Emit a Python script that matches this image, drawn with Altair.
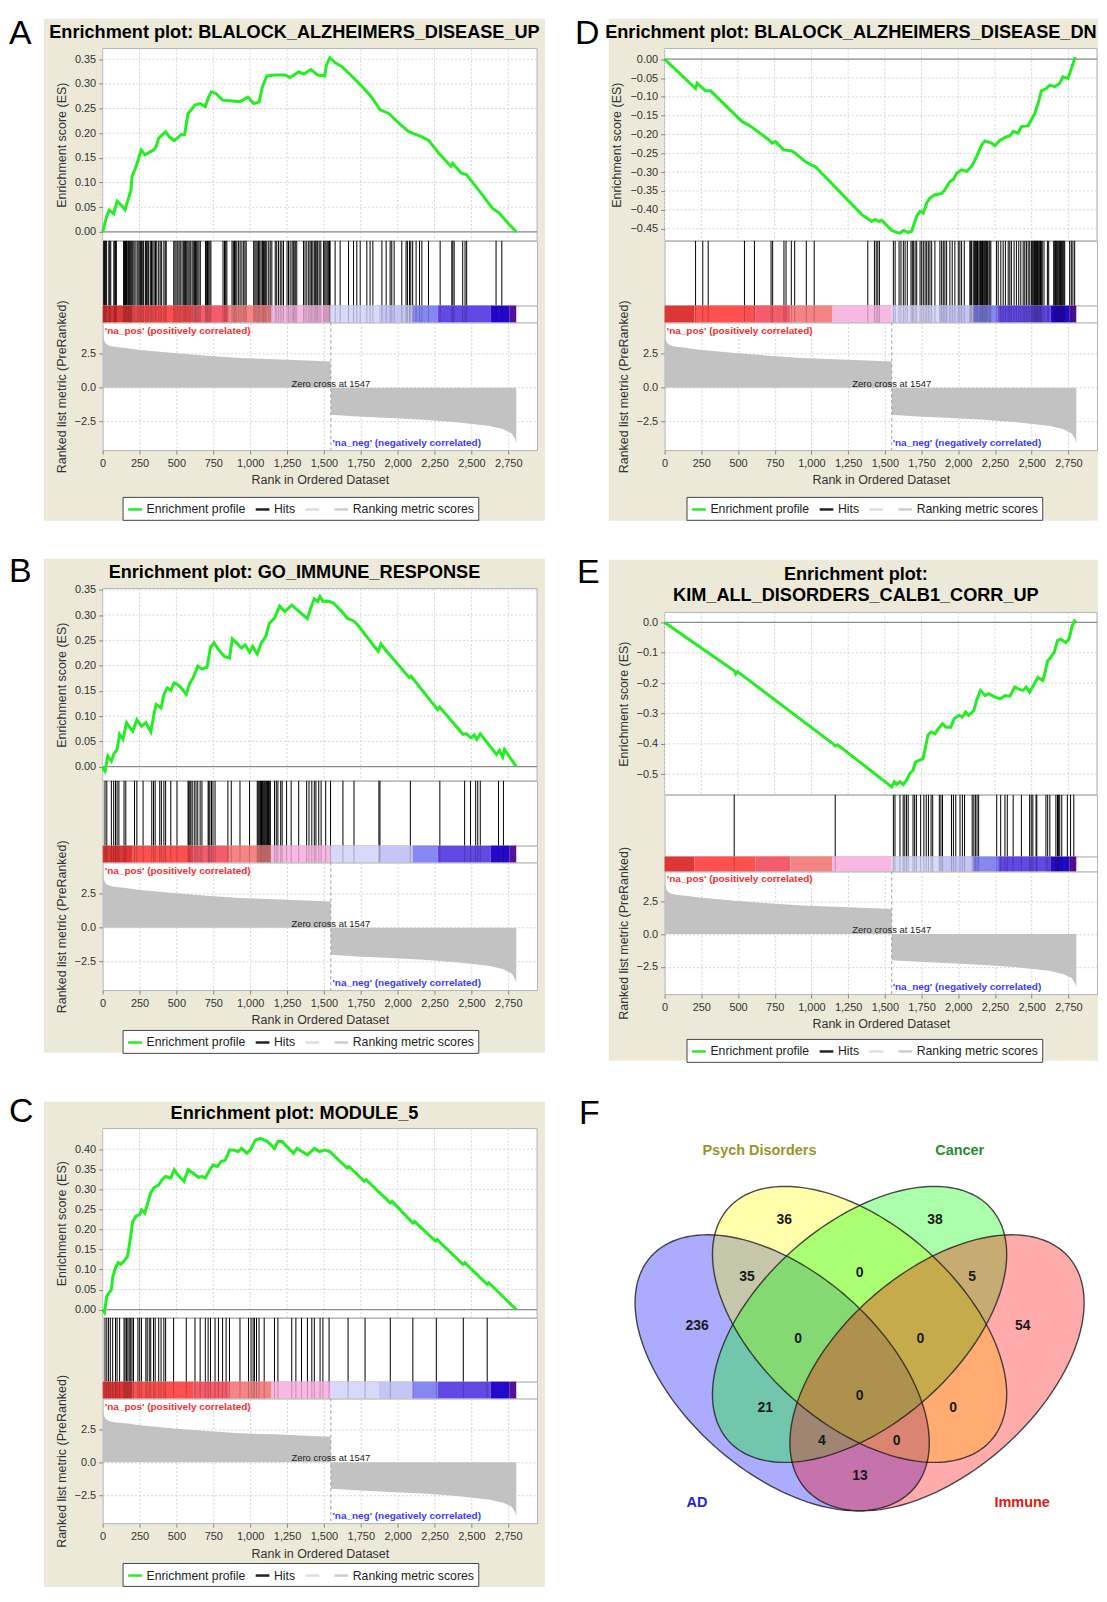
import math
import altair as alt
import pandas as pd

FONT = "Liberation Sans"
LETTER_FONT = "Liberation Sans"
BEIGE = "#ece9d8"
RANK_MAX = 2945

rank_ticks = [0, 250, 500, 750, 1000, 1250, 1500, 1750, 2000, 2250, 2500, 2750]
metric_ticks = [-2.5, 0.0, 2.5]
metric_points = [(0, 3.75), (8, 3.55), (18, 3.3), (35, 3.15), (52, 3.07), (90, 3.0), (142, 2.95),
                 (255, 2.78), (481, 2.55), (707, 2.36), (933, 2.19), (1159, 2.1), (1384, 2.0),
                 (1546, 1.93), (1547, -2.0), (1723, -2.12), (1949, -2.24), (2175, -2.36),
                 (2401, -2.55), (2627, -2.83), (2717, -3.07), (2773, -3.37), (2796, -3.77), (2804, -4.1)]
zero_cross = [1547]
note_text = ["'na_pos' (positively correlated)", "'na_neg' (negatively correlated)", "Zero cross at 1547"]
note_rank = [15, 2565, 1547]
note_metric = [4.2, -4.05, 0.3]

colorbar_start = [0, 204, 618, 856, 1144, 1547, 1870, 2102, 2272, 2630, 2759]
colorbar_end = [204, 618, 856, 1144, 1547, 1870, 2102, 2272, 2630, 2759, 2804]
colorbar_color = ["#de3636", "#ff5050", "#f45c6c", "#f68484", "#f7b8e2", "#d8d8fb", "#c6c6f6",
                  "#8787f4", "#6248e4", "#2408cc", "#53109a"]

legend_names = ["Enrichment profile", "Hits", " ", "Ranking metric scores"]
legend_colors = ["#22ee22", "#222222", "#dddddd", "#cccccc"]

a_title = ["Enrichment plot: BLALOCK_ALZHEIMERS_DISEASE_UP"]
a_es_ticks = [0.0, 0.05, 0.10, 0.15, 0.20, 0.25, 0.30, 0.35]
a_es = [(0, 0.0), (28, 0.032), (45, 0.044), (75, 0.037), (98, 0.062), (134, 0.052), (152, 0.045),
        (169, 0.062), (192, 0.085), (199, 0.112), (227, 0.133), (251, 0.156), (262, 0.166),
        (286, 0.156), (345, 0.166), (363, 0.173), (380, 0.19), (427, 0.203), (450, 0.193),
        (485, 0.185), (532, 0.197), (555, 0.197), (579, 0.24), (602, 0.248), (626, 0.257),
        (661, 0.26), (696, 0.254), (720, 0.274), (736, 0.284), (766, 0.281), (813, 0.267),
        (860, 0.266), (931, 0.264), (985, 0.273), (1024, 0.26), (1060, 0.263), (1083, 0.294),
        (1113, 0.316), (1165, 0.318), (1235, 0.318), (1271, 0.313), (1329, 0.324), (1364, 0.32),
        (1411, 0.329), (1458, 0.318), (1505, 0.316), (1517, 0.338), (1540, 0.353), (1575, 0.343),
        (1622, 0.335), (1681, 0.318), (1751, 0.297), (1821, 0.274), (1880, 0.248), (1939, 0.24),
        (2021, 0.217), (2075, 0.203), (2161, 0.193), (2208, 0.186), (2278, 0.16), (2361, 0.133),
        (2373, 0.139), (2431, 0.119), (2466, 0.116), (2548, 0.085), (2642, 0.048), (2689, 0.038),
        (2747, 0.018), (2804, 0.0)]
a_hits = [7, 13, 20, 27, 42, 48, 55, 76, 82, 88, 93, 142, 148, 155, 162, 170, 176, 183, 190, 197,
          204, 212, 220, 233, 240, 248, 256, 264, 272, 278, 290, 298, 306, 312, 323, 331, 340, 349,
          358, 367, 380, 390, 400, 415, 424, 431, 482, 490, 498, 509, 518, 526, 538, 547, 556, 561,
          570, 578, 586, 594, 606, 614, 622, 630, 635, 645, 653, 662, 697, 705, 711, 719, 727, 734,
          816, 826, 834, 842, 877, 886, 894, 902, 910, 922, 932, 944, 956, 965, 973, 1024, 1032,
          1040, 1048, 1057, 1065, 1074, 1083, 1091, 1096, 1105, 1113, 1126, 1136, 1147, 1170, 1180,
          1192, 1204, 1215, 1226, 1250, 1260, 1271, 1284, 1292, 1298, 1306, 1316, 1362, 1372, 1384,
          1397, 1406, 1415, 1425, 1435, 1444, 1452, 1458, 1468, 1479, 1498, 1506, 1514, 1522, 1530,
          1538, 1542, 1576, 1610, 1667, 1701, 1723, 1746, 1791, 1813, 1832, 1893, 1922, 1949, 1960,
          1976, 2028, 2057, 2066, 2080, 2089, 2102, 2125, 2148, 2164, 2209, 2288, 2367, 2374, 2383,
          2441, 2457, 2468, 2667, 2706]

b_title = ["Enrichment plot: GO_IMMUNE_RESPONSE"]
b_es_ticks = [0.0, 0.05, 0.10, 0.15, 0.20, 0.25, 0.30, 0.35]
b_es = [(0, -0.002), (16, -0.009), (35, 0.021), (59, 0.011), (75, 0.024), (98, 0.034), (115, 0.064),
        (138, 0.054), (162, 0.087), (185, 0.077), (204, 0.07), (232, 0.093), (263, 0.08), (293, 0.087),
        (326, 0.069), (349, 0.105), (363, 0.123), (396, 0.116), (415, 0.143), (438, 0.156),
        (462, 0.151), (485, 0.166), (509, 0.162), (532, 0.156), (567, 0.143), (591, 0.166),
        (614, 0.176), (645, 0.199), (673, 0.193), (708, 0.197), (731, 0.236), (755, 0.245),
        (785, 0.232), (825, 0.218), (860, 0.215), (879, 0.253), (907, 0.245), (942, 0.235),
        (966, 0.241), (996, 0.227), (1017, 0.238), (1048, 0.223), (1076, 0.245), (1106, 0.258),
        (1130, 0.284), (1165, 0.294), (1200, 0.318), (1235, 0.307), (1282, 0.32), (1317, 0.311),
        (1388, 0.293), (1411, 0.314), (1435, 0.332), (1458, 0.327), (1474, 0.337), (1493, 0.327),
        (1528, 0.328), (1564, 0.324), (1622, 0.307), (1657, 0.294), (1704, 0.288), (1728, 0.281),
        (1868, 0.228), (1887, 0.243), (1915, 0.232), (2079, 0.176), (2091, 0.179), (2271, 0.113),
        (2285, 0.118), (2443, 0.064), (2466, 0.065), (2497, 0.057), (2520, 0.063), (2537, 0.054),
        (2560, 0.065), (2670, 0.024), (2689, 0.032), (2712, 0.019), (2724, 0.034), (2804, 0.0)]
b_hits = [16, 28, 59, 75, 87, 98, 110, 145, 157, 216, 232, 274, 333, 345, 356, 387, 398, 415, 427,
          462, 504, 579, 584, 591, 598, 607, 621, 633, 645, 661, 673, 715, 720, 727, 738, 748, 762,
          849, 872, 931, 996, 1048, 1054, 1060, 1066, 1071, 1077, 1083, 1089, 1095, 1100, 1106, 1112,
          1118, 1124, 1130, 1137, 1165, 1177, 1188, 1207, 1217, 1247, 1278, 1329, 1383, 1399, 1418,
          1435, 1446, 1465, 1481, 1512, 1545, 1629, 1704, 1873, 1880, 2086, 2286, 2454, 2494, 2529,
          2543, 2560, 2684, 2717]

c_title = ["Enrichment plot: MODULE_5"]
c_es_ticks = [0.0, 0.05, 0.10, 0.15, 0.20, 0.25, 0.30, 0.35, 0.40]
c_es = [(0, 0.0), (12, -0.007), (28, 0.034), (45, 0.042), (59, 0.05), (68, 0.08), (87, 0.104),
        (105, 0.117), (122, 0.113), (145, 0.121), (169, 0.133), (185, 0.171), (204, 0.22),
        (227, 0.233), (251, 0.237), (263, 0.249), (286, 0.241), (309, 0.27), (326, 0.291),
        (345, 0.303), (380, 0.311), (403, 0.324), (427, 0.332), (462, 0.328), (485, 0.349),
        (509, 0.336), (551, 0.32), (579, 0.349), (614, 0.34), (649, 0.33), (673, 0.332),
        (696, 0.328), (720, 0.345), (748, 0.361), (778, 0.357), (802, 0.369), (832, 0.373),
        (860, 0.398), (888, 0.398), (919, 0.394), (942, 0.402), (977, 0.39), (1001, 0.398),
        (1036, 0.423), (1071, 0.427), (1118, 0.419), (1165, 0.402), (1188, 0.419), (1217, 0.419),
        (1294, 0.39), (1317, 0.402), (1353, 0.394), (1388, 0.386), (1435, 0.402), (1470, 0.394),
        (1505, 0.398), (1540, 0.394), (1657, 0.353), (1669, 0.357), (1774, 0.32), (1786, 0.324),
        (1950, 0.266), (1962, 0.27), (2103, 0.216), (2114, 0.22), (2255, 0.171), (2267, 0.175),
        (2443, 0.113), (2454, 0.117), (2607, 0.063), (2618, 0.067), (2804, 0.0)]
c_hits = [16, 28, 40, 52, 68, 87, 98, 115, 145, 152, 162, 171, 180, 190, 199, 209, 239, 251, 263,
          293, 302, 316, 326, 345, 356, 380, 396, 415, 427, 481, 567, 626, 661, 696, 715, 731, 762,
          785, 813, 837, 860, 931, 989, 1006, 1020, 1029, 1043, 1060, 1095, 1165, 1188, 1282, 1310,
          1348, 1388, 1418, 1435, 1474, 1493, 1535, 1664, 1779, 1950, 2103, 2262, 2445, 2607]

d_title = ["Enrichment plot: BLALOCK_ALZHEIMERS_DISEASE_DN"]
d_es_ticks = [0.0, -0.05, -0.10, -0.15, -0.20, -0.25, -0.30, -0.35, -0.40, -0.45]
d_es = [(0, 0.0), (211, -0.078), (222, -0.064), (279, -0.084), (313, -0.084), (528, -0.166),
        (573, -0.175), (607, -0.184), (709, -0.214), (732, -0.223), (755, -0.219), (811, -0.241),
        (867, -0.244), (890, -0.25), (958, -0.272), (1003, -0.282), (1026, -0.285), (1343, -0.413),
        (1377, -0.422), (1411, -0.431), (1434, -0.426), (1456, -0.431), (1479, -0.428),
        (1547, -0.455), (1581, -0.46), (1604, -0.462), (1626, -0.455), (1660, -0.46), (1683, -0.457),
        (1701, -0.435), (1717, -0.417), (1740, -0.404), (1762, -0.409), (1785, -0.382),
        (1807, -0.369), (1841, -0.36), (1887, -0.357), (1909, -0.347), (1943, -0.325), (1966, -0.32),
        (1989, -0.303), (2023, -0.294), (2057, -0.298), (2091, -0.285), (2125, -0.259),
        (2159, -0.228), (2181, -0.217), (2227, -0.223), (2249, -0.23), (2283, -0.216),
        (2328, -0.206), (2351, -0.204), (2374, -0.192), (2408, -0.196), (2430, -0.179),
        (2476, -0.177), (2521, -0.144), (2544, -0.117), (2566, -0.084), (2600, -0.078),
        (2623, -0.069), (2657, -0.073), (2691, -0.064), (2713, -0.047), (2747, -0.051),
        (2770, -0.025), (2793, 0.002), (2804, 0.0)]
d_hits = [211, 260, 297, 544, 612, 725, 736, 813, 827, 863, 886, 965, 1019, 1384, 1429, 1441, 1452,
          1463, 1558, 1570, 1597, 1610, 1626, 1638, 1653, 1678, 1687, 1694, 1706, 1717, 1740, 1751,
          1762, 1774, 1785, 1796, 1807, 1819, 1841, 1875, 1887, 1898, 1909, 1921, 1943, 1959, 1977,
          2000, 2011, 2023, 2041, 2079, 2085, 2091, 2102, 2110, 2118, 2125, 2131, 2140, 2147, 2152,
          2159, 2165, 2170, 2176, 2181, 2187, 2193, 2200, 2209, 2215, 2222, 2260, 2272, 2290, 2306,
          2321, 2340, 2351, 2362, 2380, 2396, 2412, 2426, 2442, 2453, 2464, 2476, 2487, 2498, 2504,
          2510, 2516, 2520, 2525, 2530, 2534, 2540, 2544, 2550, 2555, 2560, 2566, 2572, 2584, 2607,
          2616, 2650, 2657, 2663, 2668, 2674, 2680, 2686, 2691, 2697, 2702, 2708, 2713, 2719, 2725,
          2759, 2770, 2781, 2793]

e_title = ["Enrichment plot:", "KIM_ALL_DISORDERS_CALB1_CORR_UP"]
e_es_ticks = [0.0, -0.1, -0.2, -0.3, -0.4, -0.5]
e_es = [(0, 0.0), (474, -0.159), (485, -0.17), (496, -0.162), (1145, -0.399), (1162, -0.407),
        (1178, -0.403), (1547, -0.542), (1565, -0.525), (1580, -0.534), (1603, -0.525),
        (1625, -0.534), (1648, -0.52), (1670, -0.498), (1692, -0.487), (1708, -0.46),
        (1737, -0.454), (1759, -0.449), (1775, -0.416), (1793, -0.372), (1815, -0.361),
        (1842, -0.367), (1864, -0.35), (1893, -0.334), (1916, -0.345), (1949, -0.345),
        (1972, -0.317), (2005, -0.306), (2028, -0.312), (2050, -0.295), (2072, -0.306),
        (2106, -0.29), (2128, -0.252), (2151, -0.224), (2184, -0.241), (2206, -0.235),
        (2251, -0.246), (2285, -0.252), (2318, -0.241), (2352, -0.243), (2385, -0.213),
        (2408, -0.219), (2441, -0.224), (2463, -0.213), (2486, -0.23), (2519, -0.202),
        (2542, -0.181), (2575, -0.191), (2586, -0.175), (2609, -0.126), (2631, -0.115),
        (2654, -0.098), (2676, -0.06), (2698, -0.055), (2732, -0.066), (2754, -0.055),
        (2776, -0.011), (2792, 0.005), (2803, 0.0)]
e_hits = [474, 1162, 1558, 1569, 1603, 1625, 1636, 1648, 1659, 1692, 1703, 1715, 1744, 1766, 1782,
          1797, 1815, 1826, 1871, 1882, 1893, 1954, 1967, 1983, 2012, 2028, 2043, 2095, 2106, 2117,
          2128, 2139, 2262, 2289, 2318, 2334, 2374, 2430, 2486, 2497, 2508, 2530, 2535, 2597, 2609,
          2624, 2665, 2676, 2682, 2691, 2705, 2743, 2765, 2787]

venn_sets = ["AD", "Psych Disorders", "Cancer", "Immune"]
venn_cx = [0.35, 0.50, 0.50, 0.65]
venn_cy = [0.47, 0.57, 0.57, 0.47]
venn_a = [0.35, 0.35, 0.35, 0.35]
venn_b = [0.20, 0.20, 0.20, 0.20]
venn_rot = [-45, -45, 45, 45]
venn_fill = ["#0000ff", "#ffff00", "#00ff00", "#ff0000"]
venn_counts = ["236", "36", "38", "54", "35", "0", "5", "0", "0", "0", "21", "0", "4", "0", "13"]
venn_count_x = [0.185, 0.354, 0.646, 0.816, 0.282, 0.500, 0.718, 0.381, 0.618, 0.500, 0.317, 0.681, 0.427, 0.572, 0.501]
venn_count_y = [0.566, 0.785, 0.785, 0.566, 0.668, 0.677, 0.668, 0.540, 0.540, 0.423, 0.398, 0.398, 0.330, 0.330, 0.256]
venn_label_x = [0.185, 0.306, 0.694, 0.815]
venn_label_y = [0.202, 0.928, 0.928, 0.202]
venn_label_color = ["#2525d8", "#969628", "#2a8c2a", "#e01818"]

# ---------------- layout (positions / sizes) ----------------
LEFT = dict(w=436, es_h=193, hits_h=65, cb_h=17, met_h=128, bx=(-59, 444), tx=192.5, lx=20,
            letter_x=-94)
RIGHT = dict(w=434, es_h=193, hits_h=65, cb_h=17, met_h=128, bx=(-56, 435), tx=187, lx=22,
             letter_x=-90)
lay_a = dict(LEFT, es_dom=[-0.0182, 0.3716], by=(-30, 474), letter_y=-5, ty=[-16], ly=450)
lay_b = dict(LEFT, es_dom=[-0.0282, 0.3526], by=(-30, 466), letter_y=-7, ty=[-16], ly=443)
lay_c = dict(LEFT, es_h=190, hits_h=64, cb_h=17, met_h=125, es_dom=[-0.0206, 0.4514],
             by=(-27, 460), letter_y=-7, ty=[-15], ly=436)
lay_d = dict(RIGHT, es_dom=[-0.4826, 0.0283], by=(-30, 474), letter_y=-5, ty=[-16], ly=450)
lay_e = dict(RIGHT, es_h=183, hits_h=62, cb_h=15, met_h=123, es_dom=[-0.568, 0.0328],
             by=(-53, 450), letter_y=-30, letter_x=-88, tx=192, ty=[-38, -17], ly=428)
TITLE_SIZE = 18.2
LETTER_SIZE = 34

ONE = pd.DataFrame({"k": [0]})


def make_panel(letter, title_lines, es_points, hits, es_ticks, es_format, lay):
    W, H = lay["w"], lay["es_h"]
    xs = alt.Scale(domain=[0, RANK_MAX], nice=False, zero=False)
    ys = alt.Scale(domain=lay["es_dom"], nice=False, zero=False)
    yax = alt.Axis(title="Enrichment score (ES)", values=es_ticks, format=es_format, grid=False,
                   domain=False, zindex=1, labelFlush=False)
    bg = alt.Chart(ONE).mark_rect(fill=BEIGE, strokeOpacity=0).encode(
        x=alt.value(lay["bx"][0]), x2=alt.value(lay["bx"][1]),
        y=alt.value(lay["by"][0]), y2=alt.value(lay["by"][1]))
    frame = alt.Chart(ONE).mark_rect(fill="white", stroke="#b4b4b4", strokeWidth=1).encode(
        x=alt.value(0), x2=alt.value(W), y=alt.value(0), y2=alt.value(H))
    letter_mark = alt.Chart(ONE).mark_text(
        text=letter, font=LETTER_FONT, fontSize=LETTER_SIZE, align="left", baseline="alphabetic",
        color="#000000").encode(x=alt.value(lay["letter_x"]), y=alt.value(lay["letter_y"]))
    title_marks = [
        alt.Chart(ONE).mark_text(text=line, font=FONT, fontSize=TITLE_SIZE, fontWeight="bold",
                                 align="center", baseline="middle", color="#000000").encode(
            x=alt.value(lay["tx"]), y=alt.value(ty))
        for line, ty in zip(title_lines, lay["ty"])]
    xgrid = alt.Chart(pd.DataFrame({"t": rank_ticks})).mark_rule(
        color="#d4d4d4", strokeDash=[2, 2], strokeWidth=1).encode(
        x=alt.X("t:Q", scale=xs, axis=None))
    ygrid = alt.Chart(pd.DataFrame({"v": es_ticks})).mark_rule(
        color="#d4d4d4", strokeDash=[2, 2], strokeWidth=1).encode(
        y=alt.Y("v:Q", scale=ys, axis=yax))
    zline = alt.Chart(pd.DataFrame({"v": [0.0]})).mark_rule(color="#8c8c8c", strokeWidth=1.3).encode(
        y=alt.Y("v:Q", scale=ys, axis=yax))
    es_df = pd.DataFrame(es_points, columns=["rank", "es"])
    es_df["series"] = legend_names[0]
    line = alt.Chart(es_df).mark_line(strokeWidth=3).encode(
        x=alt.X("rank:Q", scale=xs, axis=None),
        y=alt.Y("es:Q", scale=ys, axis=yax),
        color=alt.Color("series:N", scale=alt.Scale(domain=legend_names, range=legend_colors),
                        legend=alt.Legend(orient="none", legendX=lay["lx"], legendY=lay["ly"],
                                          direction="horizontal", title=None, fillColor="white",
                                          strokeColor="#444444", padding=4, labelFont=FONT,
                                          labelFontSize=12.3, labelColor="#222222",
                                          symbolType="stroke", symbolSize=190,
                                          symbolStrokeWidth=2.5, columnPadding=4, labelOffset=3,
                                          zindex=1)))
    es_chart = alt.layer(bg, frame, letter_mark, *title_marks, xgrid, ygrid, zline, line).properties(
        width=W, height=H)

    hits_df = pd.DataFrame({"rank": hits})
    hits_chart = alt.Chart(hits_df).mark_rule(color="#000000", strokeWidth=1).encode(
        x=alt.X("rank:Q", scale=xs, axis=None)).properties(width=W, height=lay["hits_h"])

    cb_df = pd.DataFrame({"start": colorbar_start, "end": colorbar_end, "color": colorbar_color})
    cb = alt.Chart(cb_df).mark_rect().encode(
        x=alt.X("start:Q", scale=xs, axis=None), x2="end:Q",
        color=alt.Color("color:N", scale=None))
    cb_hits = alt.Chart(hits_df).mark_rule(color="#000000", opacity=0.22).encode(
        x=alt.X("rank:Q", scale=xs, axis=None))
    cb_chart = alt.layer(cb, cb_hits).properties(width=W, height=lay["cb_h"])

    ms = alt.Scale(domain=[-4.6, 4.8], nice=False, zero=False)
    xax = alt.Axis(title="Rank in Ordered Dataset", values=rank_ticks, format=",d",
                   labelFlush=False, grid=True)
    max_ = alt.Axis(title="Ranked list metric (PreRanked)", values=metric_ticks, format=".1f",
                    grid=True)
    met_df = pd.DataFrame(metric_points, columns=["rank", "m"])
    area = alt.Chart(met_df).mark_area(color="#c2c2c2").encode(
        x=alt.X("rank:Q", scale=xs, axis=xax), y=alt.Y("m:Q", scale=ms, axis=max_),
        y2=alt.datum(0))
    zc = alt.Chart(pd.DataFrame({"rank": zero_cross})).mark_rule(
        color="#9a9a9a", strokeDash=[3, 3]).encode(x=alt.X("rank:Q", scale=xs, axis=xax))
    notes = pd.DataFrame({"s": note_text, "rank": note_rank, "m": note_metric})
    styles = [("#ee3030", "left", "bold", 10), ("#3a3aff", "right", "bold", 10),
              ("#1a1a1a", "center", "normal", 9.5)]
    note_marks = []
    for i, (col, al, fw, fs) in enumerate(styles):
        note_marks.append(
            alt.Chart(notes.iloc[[i]]).mark_text(color=col, align=al, fontWeight=fw, fontSize=fs,
                                                 font=FONT, baseline="middle").encode(
                x=alt.X("rank:Q", scale=xs, axis=xax), y=alt.Y("m:Q", scale=ms, axis=max_),
                text="s:N"))
    met_chart = alt.layer(area, zc, *note_marks).properties(width=W, height=lay["met_h"])

    return alt.vconcat(es_chart, hits_chart, cb_chart, met_chart, spacing=0,
                       bounds="flush").resolve_scale(color="independent")


panel_a = make_panel("A", a_title, a_es, a_hits, a_es_ticks, ".2f", lay_a)
panel_b = make_panel("B", b_title, b_es, b_hits, b_es_ticks, ".2f", lay_b)
panel_c = make_panel("C", c_title, c_es, c_hits, c_es_ticks, ".2f", lay_c)
panel_d = make_panel("D", d_title, d_es, d_hits, d_es_ticks, ".2f", lay_d)
panel_e = make_panel("E", e_title, e_es, e_hits, e_es_ticks, ".1f", lay_e)

# ---------------- Venn ----------------
vx = alt.Scale(domain=[0.1222, 0.9600], nice=False, zero=False)
vy = alt.Scale(domain=[0.0443, 1.032], nice=False, zero=False)
ell_tables = []
for s, cx, cy, a, b, rot in zip(venn_sets, venn_cx, venn_cy, venn_a, venn_b, venn_rot):
    phi = math.radians(rot)
    rows = []
    for i in range(145):
        t = 2 * math.pi * i / 144
        rows.append({"set": s, "i": i,
                     "x": cx + a * math.cos(t) * math.cos(phi) - b * math.sin(t) * math.sin(phi),
                     "y": cy + a * math.cos(t) * math.sin(phi) + b * math.sin(t) * math.cos(phi)})
    ell_tables.append(pd.DataFrame(rows))

v_fills = [alt.Chart(df).mark_line(filled=True, color=col, fillOpacity=0.33, strokeWidth=0).encode(
    x=alt.X("x:Q", scale=vx, axis=None), y=alt.Y("y:Q", scale=vy, axis=None), order="i:Q")
    for df, col in zip(ell_tables, venn_fill)]
v_lines = [alt.Chart(df).mark_line(color="#1e1e1e", strokeWidth=1.4, opacity=0.8).encode(
    x=alt.X("x:Q", scale=vx, axis=None), y=alt.Y("y:Q", scale=vy, axis=None), order="i:Q")
    for df in ell_tables]
cnt_df = pd.DataFrame({"n": venn_counts, "x": venn_count_x, "y": venn_count_y})
v_cnt = alt.Chart(cnt_df).mark_text(font=FONT, fontSize=14, fontWeight="bold", color="#1a1a1a",
                                    baseline="middle").encode(
    x=alt.X("x:Q", scale=vx, axis=None), y=alt.Y("y:Q", scale=vy, axis=None), text="n:N")
lab_df = pd.DataFrame({"name": venn_sets, "x": venn_label_x, "y": venn_label_y,
                       "c": venn_label_color})
v_lab = alt.Chart(lab_df).mark_text(font=FONT, fontSize=14.5, fontWeight="bold",
                                    baseline="middle").encode(
    x=alt.X("x:Q", scale=vx, axis=None), y=alt.Y("y:Q", scale=vy, axis=None), text="name:N",
    color=alt.Color("c:N", scale=None))
v_letter = alt.Chart(ONE).mark_text(text="F", font=LETTER_FONT, fontSize=LETTER_SIZE, align="left",
                                    baseline="alphabetic", color="#000000").encode(
    x=alt.value(-86), y=alt.value(23))
panel_f = alt.layer(*v_fills, *v_lines, v_cnt, v_lab, v_letter).properties(
    width=434, height=480, view=alt.ViewBackground(stroke="transparent"))

left_col = alt.vconcat(
    alt.vconcat(panel_a, panel_b, spacing=32).resolve_scale(color="independent"),
    panel_c, spacing=40).resolve_scale(color="independent")
right_col = alt.vconcat(
    alt.vconcat(panel_d, panel_e, spacing=33).resolve_scale(color="independent"),
    panel_f, spacing=33).resolve_scale(color="independent")

chart = alt.hconcat(left_col, right_col, spacing=28).resolve_scale(color="independent").properties(
    padding={"left": 0, "top": 4.8, "right": 0, "bottom": 0}, background="white"
).configure_view(fill="white", stroke="#b4b4b4", strokeWidth=1).configure_axis(
    labelFont=FONT, titleFont=FONT, labelFontSize=11, titleFontSize=12.5, titleFontWeight="normal",
    labelColor="#333333", titleColor="#333333", tickColor="#888888", domain=False,
    gridColor="#d2d2d2", gridDash=[2, 2], tickSize=4, labelPadding=3, titlePadding=6)

chart.save("out.html", embed_options={"renderer": "svg", "actions": False})
